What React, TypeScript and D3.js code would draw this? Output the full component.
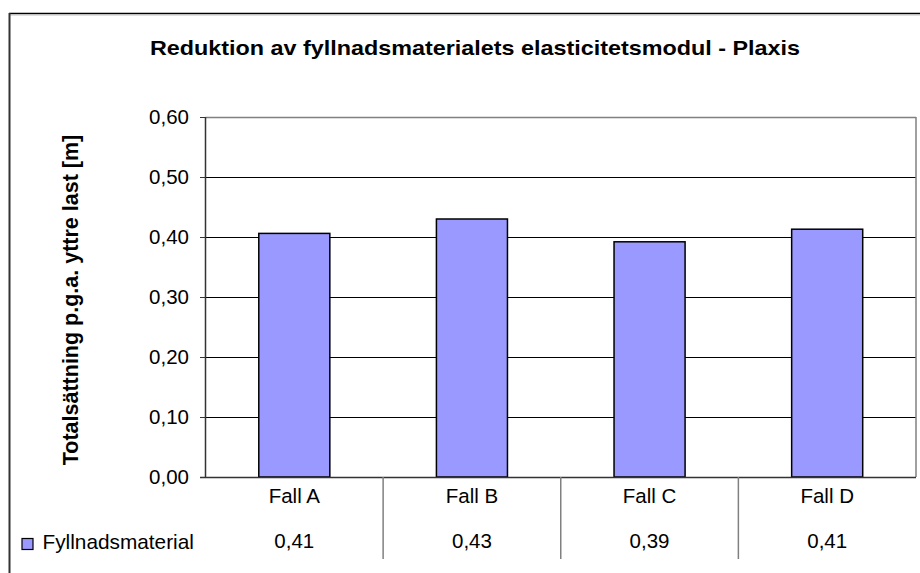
import React from "react";
import * as d3 from "d3";

const categories = ["Fall A", "Fall B", "Fall C", "Fall D"];
const values = [0.406, 0.43, 0.392, 0.413];
const tableValues = ["0,41", "0,43", "0,39", "0,41"];
const yTicks = [0, 0.1, 0.2, 0.3, 0.4, 0.5, 0.6];
const seriesName = "Fyllnadsmaterial";
const title = "Reduktion av fyllnadsmaterialets elasticitetsmodul - Plaxis";
const yTitle = "Totalsättning p.g.a. yttre last [m]";

const W = 920;
const H = 573;
const FONT = "'Liberation Sans', Arial, sans-serif";

export default function App() {
  const x0 = 205.5;
  const x1 = 916;
  const yTop = 117;
  const yBase = 477;
  const x = d3.scaleBand<string>().domain(categories).range([x0, x1]).padding(0);
  const y = d3.scaleLinear().domain([0, 0.6]).range([yBase, yTop]);
  const bw = x.bandwidth();
  const barW = bw * 0.4;
  const fmt = (v: number) => d3.format(".2f")(v).replace(".", ",");

  return (
    <svg width={W} height={H} style={{ position: "absolute", left: 0, top: 0, background: "#fff" }}
      fontFamily={FONT}>
      <rect x={0} y={0} width={W} height={H} fill="#fff" />
      {/* outer chart frame (cropped right and bottom) */}
      <line x1={9} x2={W} y1={13.5} y2={13.5} stroke="#000" strokeWidth={1.5} />
      <line x1={9} x2={W} y1={15} y2={15} stroke="#c0c0c0" strokeWidth={1} />
      <line x1={9.5} x2={9.5} y1={13} y2={H} stroke="#333" strokeWidth={2} />

      <text x={475} y={54.5} textAnchor="middle" fontWeight="bold" fontSize={21}
        textLength={650} lengthAdjust="spacingAndGlyphs" fill="#000">
        {title}
      </text>

      {/* gridlines */}
      {yTicks.filter((t) => t > 0 && t < 0.6).map((t) => (
        <line key={t} x1={x0} x2={x1} y1={Math.round(y(t)) + 0.5} y2={Math.round(y(t)) + 0.5}
          stroke="#000" strokeWidth={1} />
      ))}
      {/* plot border top & right */}
      <line x1={x0} x2={x1} y1={yTop + 0.5} y2={yTop + 0.5} stroke="#808080" strokeWidth={1.5} />
      <line x1={x1} x2={x1} y1={yTop} y2={yBase} stroke="#808080" strokeWidth={1.5} />

      {/* bars */}
      {categories.map((c, i) => (
        <rect key={c} x={(x(c) as number) + (bw - barW) / 2} y={y(values[i])}
          width={barW} height={yBase - y(values[i])} fill="#9999FF" stroke="#000" strokeWidth={1.5} />
      ))}

      {/* y axis */}
      <line x1={x0} x2={x0} y1={yTop} y2={yBase} stroke="#333" strokeWidth={1.5} />
      {yTicks.map((t) => (
        <g key={t}>
          <line x1={200} x2={x0} y1={Math.round(y(t)) + 0.5} y2={Math.round(y(t)) + 0.5} stroke="#333" strokeWidth={1} />
          <text x={189} y={y(t)} dy="0.35em" textAnchor="end" fontSize={20.5} fill="#000">
            {fmt(t)}
          </text>
        </g>
      ))}
      {/* baseline */}
      <line x1={200} x2={x1} y1={yBase + 0.5} y2={yBase + 0.5} stroke="#333" strokeWidth={1.5} />

      {/* data table dividers */}
      {categories.slice(1).map((c) => (
        <line key={c} x1={x(c) as number} x2={x(c) as number} y1={yBase} y2={559} stroke="#808080" strokeWidth={1.5} />
      ))}
      {categories.map((c, i) => (
        <g key={c}>
          <text x={(x(c) as number) + bw / 2} y={503} textAnchor="middle" fontSize={20.5} fill="#000">{c}</text>
          <text x={(x(c) as number) + bw / 2} y={548} textAnchor="middle" fontSize={20.5} fill="#000">{tableValues[i]}</text>
        </g>
      ))}

      {/* legend key */}
      <rect x={22} y={538.5} width={11} height={11} fill="#9999FF" stroke="#000" strokeWidth={1.2} />
      <text x={42.5} y={549} fontSize={20.8} fill="#000">{seriesName}</text>

      {/* y title */}
      <text transform="translate(78,300) rotate(-90)" textAnchor="middle" fontWeight="bold" fontSize={21.5} fill="#000">
        {yTitle}
      </text>
    </svg>
  );
}
